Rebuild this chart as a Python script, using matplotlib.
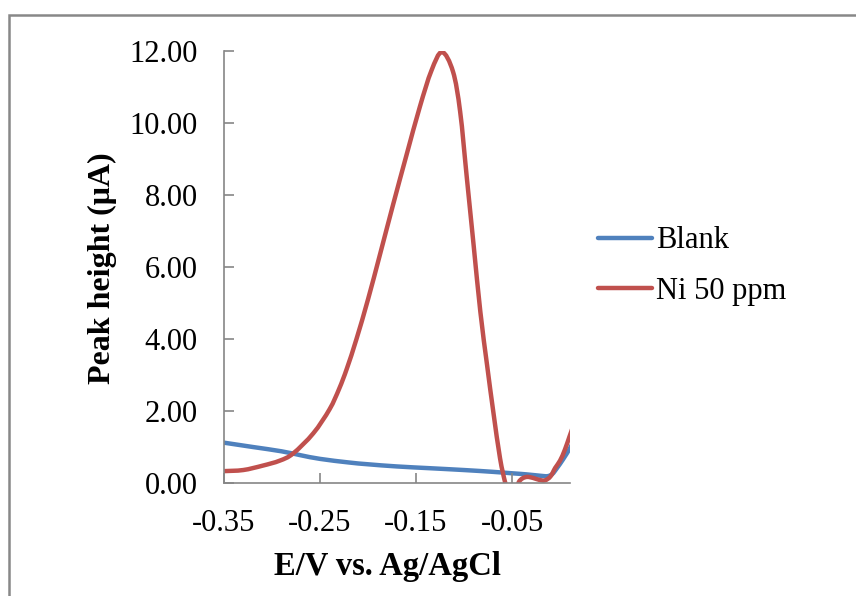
import matplotlib
matplotlib.use('Agg')
import matplotlib.pyplot as plt
from matplotlib.patches import Rectangle, PathPatch
from matplotlib.path import Path
from matplotlib.lines import Line2D

plt.rcParams['font.family'] = ['Liberation Serif', 'DejaVu Serif']

# potential (V vs Ag/AgCl) and peak current (uA)
blank_x = [-0.35, -0.32, -0.29, -0.27, -0.25, -0.22, -0.20, -0.17, -0.135, -0.10,
           -0.07, -0.05, -0.035, -0.02, -0.013, -0.008, -0.003, 0.003, 0.010, 0.014]
blank_y = [1.12, 1.00, 0.88, 0.77, 0.67, 0.57, 0.52, 0.46, 0.41, 0.36,
           0.31, 0.27, 0.24, 0.20, 0.19, 0.25, 0.42, 0.65, 0.95, 1.15]

ni_x = [-0.35, -0.33, -0.31, -0.292, -0.278, -0.257, -0.240, -0.230, -0.222, -0.212,
        -0.200, -0.1875, -0.174, -0.160, -0.146, -0.134, -0.123, -0.1115, -0.104,
        -0.097, -0.090, -0.083, -0.076, -0.0695, -0.0625, -0.057, -0.053, -0.049,
        -0.046, -0.043, -0.039, -0.034, -0.028, -0.022, -0.016, -0.010, -0.005,
        0.0, 0.005, 0.010, 0.014]
ni_y = [0.33, 0.36, 0.48, 0.62, 0.82, 1.38, 2.05, 2.62, 3.18, 4.0,
        5.1, 6.35, 7.72, 9.1, 10.45, 11.45, 11.97, 11.43, 10.31,
        8.46, 6.61, 4.76, 3.28, 1.98, 0.69, 0.0, -0.35, -0.45,
        -0.25, 0.02, 0.13, 0.17, 0.14, 0.09, 0.07, 0.18, 0.42,
        0.62, 0.92, 1.30, 1.60]

x_ticks = [-0.35, -0.25, -0.15, -0.05]
x_labels = ['-0.35', '-0.25', '-0.15', '-0.05']
y_ticks = [0, 2, 4, 6, 8, 10, 12]
y_labels = ['0.00', '2.00', '4.00', '6.00', '8.00', '10.00', '12.00']

BLUE = '#4F81BD'
RED = '#C0504D'
LW = 3.2


def smooth_path(xs, ys):
    # Excel-style smoothed line: cubic Bezier segments through every point
    pts = list(zip(xs, ys))
    verts = [pts[0]]
    codes = [Path.MOVETO]
    n = len(pts)
    for i in range(n - 1):
        p0 = pts[i - 1] if i > 0 else pts[i]
        p1 = pts[i]
        p2 = pts[i + 1]
        p3 = pts[i + 2] if i + 2 < n else pts[i + 1]
        c1 = (p1[0] + (p2[0] - p0[0]) / 6, p1[1] + (p2[1] - p0[1]) / 6)
        c2 = (p2[0] - (p3[0] - p1[0]) / 6, p2[1] - (p3[1] - p1[1]) / 6)
        verts += [c1, c2, p2]
        codes += [Path.CURVE4] * 3
    return Path(verts, codes)


fig = plt.figure(figsize=(8.56, 5.96), dpi=100)
ax = fig.add_axes([224 / 856, 1 - 483 / 596, 346 / 856, 432 / 596])

ax.add_patch(PathPatch(smooth_path(blank_x, blank_y), facecolor='none',
                       edgecolor=BLUE, lw=LW, capstyle='round', joinstyle='round'))
ax.add_patch(PathPatch(smooth_path(ni_x, ni_y), facecolor='none',
                       edgecolor=RED, lw=LW, capstyle='round', joinstyle='round'))

ax.set_xlim(-0.35, 0.0104)
ax.set_ylim(0, 12)
ax.set_xticks(x_ticks)
ax.set_xticklabels(x_labels)
ax.set_yticks(y_ticks)
ax.set_yticklabels(y_labels)

for s in ['top', 'right']:
    ax.spines[s].set_visible(False)
for s in ['left', 'bottom']:
    ax.spines[s].set_color('#868686')
    ax.spines[s].set_linewidth(1.2)
ax.tick_params(direction='in', length=7, width=1.2, color='#868686',
               labelsize=22, pad=19)

fig.text(387 / 856, 1 - 566 / 596, 'E/V vs. Ag/AgCl', ha='center', va='center',
         fontsize=23.5, fontweight='bold')
fig.text(102 / 856, 1 - 268 / 596, 'Peak height (\u03bcA)', ha='center', va='center',
         rotation=90, fontsize=23, fontweight='bold')

handles = [Line2D([], [], color=BLUE, lw=LW, solid_capstyle='round'),
           Line2D([], [], color=RED, lw=LW, solid_capstyle='round')]
fig.legend(handles, ['Blank', 'Ni 50 ppm'], loc='center left',
           bbox_to_anchor=(583 / 856, 1 - 266 / 596),
           frameon=False, fontsize=22, handlelength=1.75, handletextpad=0.15,
           labelspacing=0.7, borderpad=0)

fig.patches.append(Rectangle((8.5 / 856, -0.1), 2, (1 - 14.5 / 596) + 0.1,
                             transform=fig.transFigure, fill=False,
                             edgecolor='#888888', lw=1.8))

plt.savefig('out.png', dpi=100)
